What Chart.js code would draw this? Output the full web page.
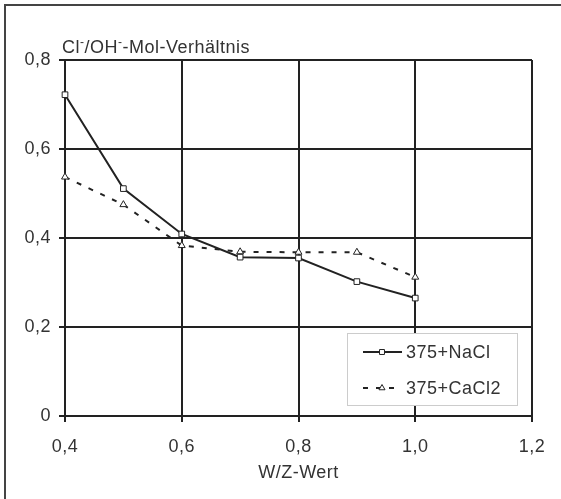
<!DOCTYPE html>
<html>
<head>
<meta charset="utf-8">
<script src="https://cdn.jsdelivr.net/npm/chart.js@4/dist/chart.umd.min.js"></script>
<style>
  body { margin: 0; background: #fff; }
  canvas { display: block; }
</style>
</head>
<body>
<canvas id="chart" width="561" height="499"></canvas>
<script>
// W/Z values
const wzValues = [0.4, 0.5, 0.6, 0.7, 0.8, 0.9, 1.0];
const naclValues = [0.722, 0.511, 0.409, 0.357, 0.355, 0.302, 0.265];
const cacl2Values = [0.537, 0.475, 0.383, 0.369, 0.368, 0.368, 0.312];
const seriesLabels = ['375+NaCl', '375+CaCl2'];
const xTicks = [0.4, 0.6, 0.8, 1.0, 1.2];
const yTicks = [0, 0.2, 0.4, 0.6, 0.8];

const ink = '#222';
const font = 'Liberation Sans, Arial, sans-serif';
const fontSize = 18;
const spacing = '0.5px'; // the scanned text is a bit wider than plain Arial

function toPoints(xs, ys) {
    return xs.map((x, i) => ({ x: x, y: ys[i] }));
}

function comma(v, digits) {
    return v.toFixed(digits).replace('.', ',');
}

// draw text where "^" parts are raised small minus signs
function drawSupText(ctx, parts, x, y) {
    parts.forEach(p => {
        if (p === '^') {
            ctx.font = '12px ' + font;
            ctx.fillText('-', x, y - 7);
            x += ctx.measureText('-').width;
        } else {
            ctx.font = fontSize + 'px ' + font;
            ctx.fillText(p, x, y);
            x += ctx.measureText(p).width;
        }
    });
}

const spacingPlugin = {
    id: 'spacing',
    beforeUpdate(chart) { chart.ctx.letterSpacing = spacing; },
    beforeDraw(chart) { chart.ctx.letterSpacing = spacing; }
};

// frame, y title and the legend box drawn by hand
const extras = {
    id: 'extras',
    afterDraw(chart) {
        const ctx = chart.ctx;
        const area = chart.chartArea;
        ctx.save();
        // outer frame (top + left edge visible)
        ctx.strokeStyle = '#444';
        ctx.lineWidth = 2;
        ctx.beginPath();
        ctx.moveTo(561, 5);
        ctx.lineTo(5, 5);
        ctx.lineTo(5, 499);
        ctx.stroke();

        // y axis title
        ctx.fillStyle = '#333';
        ctx.textBaseline = 'alphabetic';
        ctx.textAlign = 'left';
        drawSupText(ctx, ['Cl', '^', '/OH', '^', '-Mol-Verh\u00E4ltnis'], area.left - 3, area.top - 7);

        // legend
        const bx = 347, by = 333, bw = 170, bh = 72;
        ctx.fillStyle = '#fff';
        ctx.fillRect(bx, by, bw, bh);
        ctx.strokeStyle = '#ccc';
        ctx.lineWidth = 1;
        ctx.strokeRect(bx + 0.5, by + 0.5, bw, bh);

        chart.data.datasets.forEach((ds, i) => {
            const cy = 352 + i * 36;
            ctx.strokeStyle = ds.borderColor;
            ctx.lineWidth = ds.borderWidth;
            ctx.setLineDash(ds.borderDash || []);
            ctx.beginPath();
            ctx.moveTo(363, cy);
            ctx.lineTo(402, cy);
            ctx.stroke();
            ctx.setLineDash([]);
            ctx.fillStyle = '#fff';
            ctx.strokeStyle = ink;
            ctx.lineWidth = 1;
            Chart.helpers.drawPoint(ctx, {
                pointStyle: ds.pointStyle,
                radius: 3.5,
                rotation: 0,
                borderWidth: 1
            }, 382, cy);
            ctx.fillStyle = '#333';
            ctx.font = fontSize + 'px ' + font;
            ctx.textBaseline = 'middle';
            ctx.fillText(ds.label, 406, cy + 1);
        });
        ctx.restore();
    }
};

const ctx = document.getElementById('chart').getContext('2d');
const chart = new Chart(ctx, {
    type: 'line',
    data: {
        datasets: [{
            label: seriesLabels[0],
            data: toPoints(wzValues, naclValues),
            borderColor: ink,
            borderWidth: 2,
            pointStyle: 'rect',
            pointRadius: 4,
            pointBackgroundColor: '#fff',
            pointBorderColor: ink,
            pointBorderWidth: 1,
            clip: 10,
            tension: 0
        }, {
            label: seriesLabels[1],
            data: toPoints(wzValues, cacl2Values),
            borderColor: ink,
            borderWidth: 2,
            borderDash: [5, 8],
            pointStyle: 'triangle',
            pointRadius: 4,
            pointBackgroundColor: '#fff',
            pointBorderColor: ink,
            pointBorderWidth: 1,
            clip: 10,
            tension: 0
        }]
    },
    options: {
        responsive: false,
        animation: false,
        layout: { padding: { left: 0, top: 60, right: 29, bottom: 15 } },
        plugins: {
            legend: { display: false },
            tooltip: { enabled: false }
        },
        scales: {
            x: {
                type: 'linear',
                min: 0.4,
                max: 1.2,
                afterBuildTicks: axis => { axis.ticks = xTicks.map(v => ({ value: v })); },
                afterFit: axis => { axis.height = 68; },
                ticks: {
                    color: '#333',
                    font: { family: font, size: fontSize },
                    padding: 14,
                    callback: v => comma(v, 1)
                },
                grid: { color: ink, lineWidth: 2, tickLength: 6 },
                border: { color: ink, width: 2 },
                title: {
                    display: true,
                    text: 'W/Z-Wert',
                    color: '#333',
                    font: { family: font, size: fontSize },
                    padding: { top: 0, bottom: 0 }
                }
            },
            y: {
                min: 0,
                max: 0.8,
                afterBuildTicks: axis => { axis.ticks = yTicks.map(v => ({ value: v })); },
                afterFit: axis => { axis.width = 65; },
                ticks: {
                    color: '#333',
                    font: { family: font, size: fontSize },
                    padding: 8,
                    callback: v => v === 0 ? '0' : comma(v, 1)
                },
                grid: { color: ink, lineWidth: 2, tickLength: 6 },
                border: { color: ink, width: 2 }
            }
        }
    },
    plugins: [spacingPlugin, extras]
});
</script>
</body>
</html>
